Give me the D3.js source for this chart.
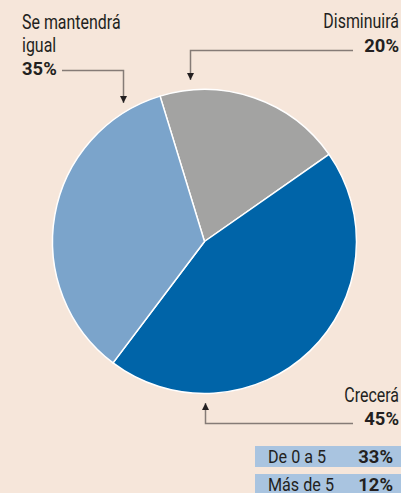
<!DOCTYPE html>
<html>
<head>
<meta charset="utf-8">
<script src="https://cdn.jsdelivr.net/npm/d3@7"></script>
<style>
  body { margin: 0; background: #f6e6da; }
  text { font-family: Roboto, "Noto Sans", sans-serif; fill: #231f20; }
</style>
</head>
<body>
<div id="chart"></div>
<script>
var categories = ["Disminuirá", "Crecerá", "Se mantendrá igual"];
var values = [20, 45, 35];
var colors = ["#a3a3a2", "#0064a8", "#7ba4cb"];

var tableLabels = ["De 0 a 5", "Más de 5"];
var tableValues = [33, 12];

var width = 401,
    height = 493;

var svg = d3.select("#chart")
  .append("svg")
    .attr("width", width)
    .attr("height", height);

svg.append("rect")
  .attr("width", width)
  .attr("height", height)
  .style("fill", "#f6e6da");

// arrow heads
svg.append("defs").append("marker")
  .attr("id", "arrow")
  .attr("viewBox", "0 0 10 10")
  .attr("refX", 10)
  .attr("refY", 5)
  .attr("markerWidth", 7)
  .attr("markerHeight", 7)
  .attr("markerUnits", "userSpaceOnUse")
  .attr("orient", "auto")
  .append("path")
    .attr("d", "M0,0L10,5L0,10Z")
    .style("fill", "#231f20");

// pie
var cx = 204.5, cy = 241.5, r = 152;
var start = -17 * Math.PI / 180;

var pie = d3.pie()
  .sort(null)
  .startAngle(start)
  .endAngle(start + 2 * Math.PI);

var arc = d3.arc()
  .innerRadius(0)
  .outerRadius(r);

svg.append("g")
    .attr("transform", "translate(" + cx + "," + cy + ")")
  .selectAll("path")
  .data(pie(values)).enter()
  .append("path")
    .attr("d", arc)
    .style("fill", function(d, i) { return colors[i]; })
    .style("stroke", "#ffffff")
    .style("stroke-width", 1.5);

// condensed text helper
function ctext(parent, str, x, y, size, bold, sq, anchor) {
  return parent.append("text")
    .attr("transform", "translate(" + x + "," + y + ") scale(" + sq + ",1)")
    .style("font-size", size + "px")
    .style("font-weight", bold ? "bold" : "normal")
    .style("text-anchor", anchor || "start")
    .text(str);
}

// labels
ctext(svg, "Se mantendrá", 22, 29, 21, false, 0.76);
ctext(svg, "igual", 22, 52, 21, false, 0.76);
ctext(svg, values[2] + "%", 22, 75, 19, true, 0.97);

ctext(svg, categories[0], 399, 28, 21, false, 0.76, "end");
ctext(svg, values[0] + "%", 399, 52, 19, true, 0.97, "end");

ctext(svg, categories[1], 399, 402, 21, false, 0.76, "end");
ctext(svg, values[1] + "%", 399, 425, 19, true, 0.97, "end");

// leader lines
var leaders = [
  [[62, 70.5], [123.5, 70.5], [123.5, 103]],
  [[353, 50.5], [190.5, 50.5], [190.5, 80]],
  [[353, 423.5], [205.5, 423.5], [205.5, 403]]
];

svg.selectAll(".leader")
  .data(leaders).enter()
  .append("path")
    .attr("class", "leader")
    .attr("d", d3.line())
    .style("fill", "none")
    .style("stroke", "#857b76")
    .style("stroke-width", 1.5)
    .attr("marker-end", "url(#arrow)");

// small table
var rowY = d3.scaleBand()
  .domain(tableLabels)
  .range([446, 495])
  .paddingInner(0.25)
  .paddingOuter(0);

var rows = svg.selectAll(".row")
  .data(tableLabels).enter()
  .append("g")
    .attr("class", "row");

rows.append("rect")
  .attr("x", 255)
  .attr("y", function(d) { return rowY(d); })
  .attr("width", width - 255)
  .attr("height", rowY.bandwidth())
  .style("fill", "#a9c4e0");

rows.each(function(d, i) {
  var g = d3.select(this);
  var y = rowY(d) + 17;
  ctext(g, d, 268, y, 19, false, 0.85);
  ctext(g, tableValues[i] + "%", 393, y, 19, true, 0.97, "end");
});
</script>
</body>
</html>
